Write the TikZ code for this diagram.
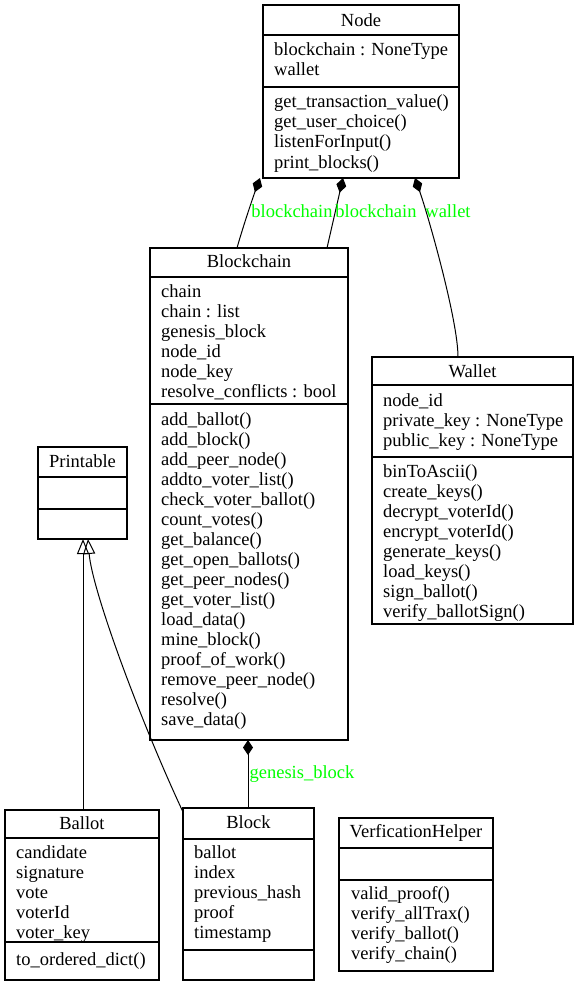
\documentclass[tikz,border=0pt]{standalone}
\usepackage{fontspec}
\setmainfont{Liberation Serif}
\usetikzlibrary{arrows.meta}
\definecolor{lbl}{RGB}{0,255,0}
\newcommand\umlrows[4]{\foreach \rowtext [count=\i] in {#4}{\node[txt] (#1-\i) at ({#2},{#3+20*(\i-1)}) {\rowtext};}}
\begin{document}
\begin{tikzpicture}[x=1pt,y=-1pt,
  box/.style={draw, line width=1.1pt, inner sep=0pt, outer sep=0pt, anchor=north west},
  sepline/.style={line width=1.1pt},
  txt/.style={anchor=base west, inner sep=0pt, font=\fontsize{18.5}{20}\selectfont},
  ttl/.style={anchor=base, inner sep=0pt, font=\fontsize{18.5}{20}\selectfont},
  lab/.style={anchor=base, inner sep=0pt, text=lbl, font=\fontsize{18.5}{20}\selectfont},
  comp/.style={line width=1pt, {Diamond[length=15pt,width=10pt]}-},
  inh/.style={line width=1pt, -{Triangle[open,length=15pt,width=12pt]}}
]
\useasboundingbox (0,0) rectangle (579,987);

% Node
\node[box, minimum width=196pt, minimum height=173pt] (node) at (263,5) {};
\node[ttl] (node-t) at (361,27) {Node};
\draw[sepline] (node.west |- 0,35) -- (node.east |- 0,35);
\draw[sepline] (node.west |- 0,87) -- (node.east |- 0,87);
\umlrows{nodea}{274}{56}{blockchain : NoneType, wallet}
\umlrows{nodem}{274}{108}{get\_transaction\_value(), get\_user\_choice(), listenForInput(), print\_blocks()}

% Blockchain
\node[box, minimum width=198pt, minimum height=492pt] (bc) at (150,248) {};
\node[ttl] (bc-t) at (249,267) {Blockchain};
\draw[sepline] (bc.west |- 0,277) -- (bc.east |- 0,277);
\draw[sepline] (bc.west |- 0,404) -- (bc.east |- 0,404);
\umlrows{bca}{161}{297}{chain, chain : list, genesis\_block, node\_id, node\_key, resolve\_conflicts : bool}
\umlrows{bcm}{161}{425}{add\_ballot(), add\_block(), add\_peer\_node(), addto\_voter\_list(), check\_voter\_ballot(), count\_votes(), get\_balance(), get\_open\_ballots(), get\_peer\_nodes(), get\_voter\_list(), load\_data(), mine\_block(), proof\_of\_work(), remove\_peer\_node(), resolve(), save\_data()}

% Wallet
\node[box, minimum width=201pt, minimum height=267pt] (wal) at (372,357) {};
\node[ttl] (wal-t) at (472.5,377) {Wallet};
\draw[sepline] (wal.west |- 0,385) -- (wal.east |- 0,385);
\draw[sepline] (wal.west |- 0,457) -- (wal.east |- 0,457);
\umlrows{wala}{383}{406}{node\_id, private\_key : NoneType, public\_key : NoneType}
\umlrows{walm}{383}{477}{binToAscii(), create\_keys(), decrypt\_voterId(), encrypt\_voterId(), generate\_keys(), load\_keys(), sign\_ballot(), verify\_ballotSign()}

% Printable
\node[box, minimum width=89pt, minimum height=92pt] (pr) at (38,447) {};
\node[ttl] (pr-t) at (82.5,467) {Printable};
\draw[sepline] (pr.west |- 0,477) -- (pr.east |- 0,477);
\draw[sepline] (pr.west |- 0,509) -- (pr.east |- 0,509);

% Ballot
\node[box, minimum width=154pt, minimum height=170pt] (bal) at (5,810) {};
\node[ttl] (bal-t) at (82,829) {Ballot};
\draw[sepline] (bal.west |- 0,838) -- (bal.east |- 0,838);
\draw[sepline] (bal.west |- 0,942) -- (bal.east |- 0,942);
\umlrows{bala}{16}{858}{candidate, signature, vote, voterId, voter\_key}
\umlrows{balm}{16}{965}{to\_ordered\_dict()}

% Block
\node[box, minimum width=131pt, minimum height=172pt] (blk) at (183,808) {};
\node[ttl] (blk-t) at (248.5,828) {Block};
\draw[sepline] (blk.west |- 0,839) -- (blk.east |- 0,839);
\draw[sepline] (blk.west |- 0,950) -- (blk.east |- 0,950);
\umlrows{blka}{194}{858}{ballot, index, previous\_hash, proof, timestamp}

% VerficationHelper
\node[box, minimum width=154pt, minimum height=153pt] (vh) at (339,818) {};
\node[ttl] (vh-t) at (416,837) {VerficationHelper};
\draw[sepline] (vh.west |- 0,848) -- (vh.east |- 0,848);
\draw[sepline] (vh.west |- 0,880) -- (vh.east |- 0,880);
\umlrows{vhm}{351}{899}{valid\_proof(), verify\_allTrax(), verify\_ballot(), verify\_chain()}

% Connectors
\draw[comp] ([xshift=-3pt]node.south west) .. controls (252,200) and (242,230) .. ([xshift=87pt]bc.north west);
\draw[comp] ([xshift=80pt]node.south west) -- ([xshift=177pt]bc.north west);
\draw[comp] ([xshift=152pt]node.south west) .. controls (428,215) and (458,320) .. ([xshift=86pt]wal.north west);
\draw[comp] ([xshift=98pt]bc.south west) -- ([xshift=65pt]blk.north west);
\draw[inh] ([xshift=78pt]bal.north west) -- ([xshift=45pt]pr.south west);
\draw[inh] ([yshift=-4pt]blk.north west) .. controls (140,720) and (92,590) .. ([xshift=50pt]pr.south west);

% Labels
\node[lab] (l1) at (292,217) {blockchain};
\node[lab] (l2) at (376,217) {blockchain};
\node[lab] (l3) at (448,217) {wallet};
\node[lab] (l4) at (302,778) {genesis\_block};
\end{tikzpicture}
\end{document}
